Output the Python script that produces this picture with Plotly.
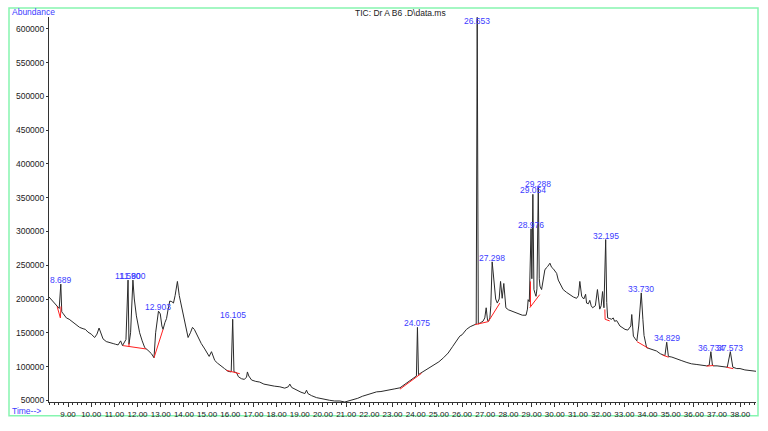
import plotly.graph_objects as go

# Chromatogram trace (time in min, abundance)
time_min = [
    8.18, 8.30, 8.42, 8.55, 8.62, 8.689, 8.73, 8.80, 8.93, 9.05, 9.22, 9.35, 9.50, 9.65, 9.75, 9.86,
    10.00, 10.15, 10.25, 10.34, 10.42, 10.51, 10.65, 10.80, 10.95, 11.05, 11.16, 11.27, 11.35, 11.50,
    11.590, 11.63, 11.70, 11.800, 11.86, 11.95, 12.09, 12.20, 12.31, 12.45, 12.60, 12.71, 12.78,
    12.903, 12.98, 13.05, 13.10, 13.18, 13.25, 13.32, 13.39, 13.48, 13.55, 13.62, 13.72, 13.80,
    13.89, 14.00, 14.11, 14.18, 14.28, 14.37, 14.45, 14.61, 14.75, 14.90, 15.00, 15.09, 15.19,
    15.27, 15.33, 15.45, 15.62, 15.75, 15.90, 16.04, 16.105, 16.16, 16.27, 16.35, 16.48, 16.60,
    16.70, 16.74, 16.80, 16.92, 17.10, 17.27, 17.45, 17.70, 17.90, 18.14, 18.35, 18.50, 18.57,
    18.65, 18.86, 19.05, 19.22, 19.29, 19.35, 19.50, 19.72, 19.95, 20.10, 20.29, 20.50, 20.73,
    20.94, 21.10, 21.30, 21.50, 21.70, 21.88, 22.10, 22.31, 22.50, 22.70, 22.88, 23.10, 23.32,
    23.50, 23.67, 23.80, 23.96, 24.03, 24.075, 24.12, 24.18, 24.35, 24.54, 24.75, 25.00, 25.20,
    25.40, 25.60, 25.76, 25.90, 26.00, 26.19, 26.35, 26.50, 26.61, 26.653, 26.70, 26.80, 26.90,
    26.98, 27.04, 27.10, 27.14, 27.20, 27.24, 27.298, 27.35, 27.39, 27.45, 27.52, 27.60, 27.66,
    27.70, 27.73, 27.80, 27.85, 27.89, 28.00, 28.14, 28.30, 28.49, 28.60, 28.76, 28.82, 28.85,
    28.90, 28.976, 29.01, 29.054, 29.10, 29.15, 29.19, 29.23, 29.288, 29.33, 29.36, 29.43, 29.50,
    29.57, 29.63, 29.69, 29.79, 29.86, 29.93, 30.00, 30.08, 30.15, 30.25, 30.36, 30.50, 30.65,
    30.80, 30.94, 31.02, 31.08, 31.12, 31.16, 31.25, 31.33, 31.37, 31.45, 31.51, 31.57, 31.63,
    31.75, 31.84, 31.90, 31.94, 32.00, 32.06, 32.12, 32.195, 32.24, 32.28, 32.37, 32.45, 32.52,
    32.58, 32.67, 32.74, 32.81, 32.90, 33.03, 33.15, 33.22, 33.28, 33.32, 33.36, 33.39, 33.47,
    33.54, 33.62, 33.730, 33.80, 33.85, 33.96, 34.10, 34.25, 34.39, 34.55, 34.75, 34.829, 34.90,
    35.05, 35.26, 35.45, 35.70, 35.90, 36.13, 36.35, 36.55, 36.66, 36.734, 36.80, 36.84, 37.00,
    37.20, 37.44, 37.573, 37.65, 37.68, 37.85, 37.99, 38.20, 38.42, 38.68,
]
abundance = [
    203000, 198000, 194000, 188000, 186000, 222000, 181000, 178000, 172000, 170000, 165000, 161000, 158000, 156000, 155000, 151000,
    148000, 143000, 148000, 157000, 150000, 141000, 137000, 135000, 134000, 133000, 132000, 138000, 131000, 140000,
    228000, 133000, 150000, 228000, 200000, 175000, 150000, 138000, 128000, 124000, 119000, 113000, 150000,
    182000, 178000, 160000, 155000, 165000, 171000, 185000, 197000, 196000, 194000, 205000, 226000, 205000,
    189000, 170000, 155000, 143000, 150000, 158000, 155000, 143000, 134000, 126000, 120000, 115000, 122000,
    113000, 109000, 105000, 101000, 97000, 93000, 92000, 170000, 92000, 91000, 85000, 82000, 81000,
    84000, 92000, 86000, 80000, 78000, 77000, 74000, 72000, 71000, 70000, 68000, 70000, 74000,
    69000, 65000, 62000, 60000, 65000, 60000, 57000, 54000, 52000, 51000, 50000, 49000, 49000,
    47500, 49000, 50500, 53000, 56000, 58000, 60000, 62500, 63000, 64000, 65000, 67000, 68500,
    73000, 78000, 81000, 84500, 86000, 158000, 88000, 89500, 93000, 98000, 102000, 107000, 113000,
    120000, 130000, 138000, 145000, 147000, 155000, 159000, 162000, 163000, 617000, 163000, 165000, 167000,
    172000, 187000, 168000, 167000, 172000, 190000, 255000, 235000, 214000, 200000, 194000, 200000, 226000,
    205000, 201000, 223000, 195000, 187000, 184000, 182000, 180000, 177000, 176000, 176000, 185000, 199000,
    196000, 304000, 230000, 355000, 214000, 208000, 204000, 215000, 365000, 230000, 219000, 214000, 228000,
    243000, 246000, 248000, 253000, 247000, 245000, 241000, 238000, 228000, 220000, 214000, 210000, 206000,
    203000, 201000, 205000, 226000, 208000, 204000, 200000, 207000, 194000, 193000, 198000, 190000, 187000,
    190000, 214000, 192000, 185000, 190000, 211000, 187000, 288000, 195000, 172000, 171000, 170000, 172000,
    167000, 168000, 163000, 160000, 158000, 155000, 154000, 158000, 160000, 177000, 150000, 145000, 141000,
    138000, 160000, 209000, 170000, 146000, 128000, 126000, 125000, 123000, 119000, 116000, 136000, 115000,
    114000, 111000, 109000, 106000, 104000, 103000, 102000, 101000, 102000, 122000, 102000, 101000, 101000,
    100000, 99000, 122000, 99000, 99000, 97000, 97000, 95000, 94000, 93000,
]

# Integration baselines (red), segments separated by None
base_t = [8.53, 8.67, 8.70, None, 11.37, 12.37, None, 11.63, 11.63, None, 12.71, 13.10, None,
          15.84, 16.41, None, 23.32, 24.25, None, 26.56, 27.13, 27.63, None, 28.92, 29.35, None,
          28.95, 28.95, None, 32.16, 32.17, 32.37, None, 33.54, 34.04, None, 34.65, 34.91, None,
          36.55, 36.86, None, 37.41, 37.70]
base_a = [189000, 172000, 189000, None, 131000, 126000, None, 135000, 129000, None, 113000, 155000, None,
          94300, 89400, None, 66500, 90000, None, 162000, 166500, 194000, None, 187000, 206500, None,
          189000, 226000, None, 184500, 170000, 167500, None, 137000, 127000, None, 117000, 113800, None,
          100600, 101600, None, 99000, 96800]

# Peak labels
peak_t = [8.689, 11.590, 11.800, 12.903, 16.105, 24.075, 26.653, 27.298, 28.976, 29.054, 29.288,
          32.195, 33.730, 34.829, 36.734, 37.573]
peak_a = [222000, 228000, 228000, 182000, 170000, 158000, 606000, 255000, 304000, 355000, 365000,
          288000, 209000, 136000, 122000, 122000]
peak_text = ["8.689", "11.590", "11.800", "12.903", "16.105", "24.075", "26.653", "27.298", "28.976",
             "29.054", "29.288", "32.195", "33.730", "34.829", "36.734", "37.573"]

BLUE = "#3c3cff"
FONT = "Liberation Sans, Arial, sans-serif"

fig = go.Figure()
fig.add_trace(go.Scatter(x=time_min, y=abundance, mode="lines",
                         line=dict(color="#2a2a2a", width=1), hoverinfo="skip"))
fig.add_trace(go.Scatter(x=base_t, y=base_a, mode="lines", connectgaps=False,
                         line=dict(color="#ff2020", width=1), hoverinfo="skip"))

for t, a, s in zip(peak_t, peak_a, peak_text):
    fig.add_annotation(x=t, y=a, text=s, showarrow=False, xanchor="center", yanchor="middle",
                       yshift=4, font=dict(family=FONT, size=8.5, color=BLUE))

L, R, T, B = 49, 12, 17, 24
W, H = 768, 431
pw, ph = W - L - R, H - T - B

def px_x(x):
    return (x - L) / pw

def px_y(y):
    return (H - B - y) / ph

fig.add_annotation(xref="paper", yref="paper", x=px_x(10), y=px_y(12), text="Abundance",
                   showarrow=False, xanchor="left", yanchor="middle",
                   font=dict(family=FONT, size=8.5, color=BLUE))
fig.add_annotation(xref="paper", yref="paper", x=px_x(10), y=px_y(416), text="Time-->",
                   showarrow=False, xanchor="left", yanchor="middle",
                   font=dict(family=FONT, size=8.5, color=BLUE))
fig.add_annotation(xref="paper", yref="paper", x=px_x(400), y=px_y(13), text="TIC: Dr A B6 .D\\data.ms",
                   showarrow=False, xanchor="center", yanchor="middle",
                   font=dict(family=FONT, size=8.5, color="#222"))

fig.add_shape(type="rect", xref="paper", yref="paper", x0=px_x(9), x1=px_x(758), y0=px_y(421), y1=px_y(8),
              line=dict(color="#86f5b0", width=1.5), fillcolor="rgba(0,0,0,0)", layer="below")

fig.update_layout(
    width=W, height=H, autosize=False,
    margin=dict(l=L, r=R, t=T, b=B, pad=0),
    paper_bgcolor="white", plot_bgcolor="white",
    showlegend=False,
    font=dict(family=FONT, size=8.5, color="#222"),
)
fig.update_xaxes(range=[8.18, 38.68], tick0=9, dtick=1, tickformat=".2f", tickangle=0,
                 tickfont=dict(size=8),
                 showline=True, linecolor="#333", linewidth=1, showgrid=False, zeroline=False,
                 ticks="outside", ticklen=4, tickcolor="#333",
                 minor=dict(dtick=0.2, tick0=9, ticks="outside", ticklen=2, tickcolor="#333", showgrid=False))
fig.update_yaxes(range=[47500, 617500], tick0=0, dtick=50000, tickformat="d",
                 showline=True, linecolor="#333", linewidth=1, showgrid=False, zeroline=False,
                 ticks="outside", ticklen=2, tickcolor="#333")

fig.write_html("out.html")
